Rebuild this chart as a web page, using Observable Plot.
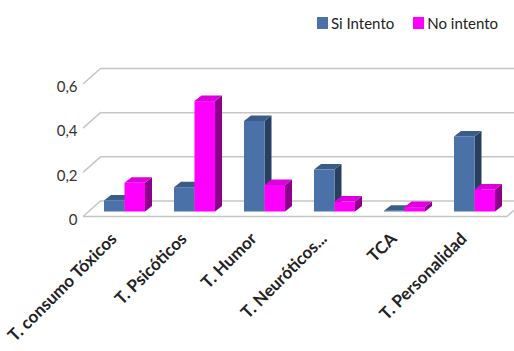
<!DOCTYPE html>
<html><head><meta charset="utf-8">
<script src="https://cdn.jsdelivr.net/npm/d3@7"></script>
<script src="https://cdn.jsdelivr.net/npm/@observablehq/plot@0.6"></script>
<style>
html,body{margin:0;padding:0;background:#fff;overflow:hidden;}
#wrap{position:relative;width:514px;height:351px;}
#legend{position:absolute;left:317px;top:14px;font:15px Lato,sans-serif;color:#222;display:flex;align-items:center;white-space:nowrap;}
#legend .item{display:flex;align-items:center;margin-right:19px;}
#legend .sw{width:11px;height:12px;margin-right:3px;}
#chart{position:absolute;left:0;top:0;}
</style></head><body>
<div id="wrap"><div id="chart"></div><div id="legend"></div></div>
<script>
const categories = ["T. consumo Tóxicos","T. Psicóticos","T. Humor","T. Neuróticos...","TCA","T. Personalidad"];
const series = ["Si Intento","No intento"];
const siIntento = [0.05, 0.11, 0.41, 0.19, 0.003, 0.34];
const noIntento = [0.13, 0.50, 0.12, 0.045, 0.02, 0.10];
const yTicks = [0, 0.2, 0.4, 0.6];
const yTickLabels = ["0", "0,2", "0,4", "0,6"];
const frontColors = ["#4a72a8", "#ff00ff"];
const topColors = ["#3a5c88", "#dc00dc"];
const sideColors = ["#283f60", "#8c008c"];

const data = categories.flatMap((c, i) => [
  {category: c, s: 0, value: siIntento[i]},
  {category: c, s: 1, value: noIntento[i]}
]);

const WX = 18, WY = -16;      // back wall offset
const BX = 4, BY = -5;        // bar front offset
const DX = 7, DY = -5.5;      // bar depth

function wall(index, scales) {
  const {x, y} = scales;
  const [r0, r1] = x.range();
  const g = d3.create("svg:g").attr("stroke", "#c6c6c6").attr("stroke-width", 1.5).attr("fill", "none");
  for (const t of yTicks) {
    g.append("line").attr("x1", r0).attr("y1", y(t)).attr("x2", r0 + WX).attr("y2", y(t) + WY);
  }
  g.append("line").attr("x1", r0).attr("y1", y(0)).attr("x2", r1).attr("y2", y(0));
  g.append("line").attr("x1", r1).attr("y1", y(0)).attr("x2", r1 + WX).attr("y2", y(0) + WY);
  return g.node();
}

function bars3d(index, scales) {
  const {x, y} = scales;
  const bw = x.bandwidth() / 2;
  const g = d3.create("svg:g");
  for (const row of data) {
    const x0 = x(row.category) + row.s * bw + BX;
    const x1 = x0 + bw;
    const y0 = y(0) + BY, y1 = y(row.value) + BY;
    g.append("path").attr("fill", sideColors[row.s])
      .attr("d", `M${x1},${y1}L${x1 + DX},${y1 + DY}L${x1 + DX},${y0 + DY}L${x1},${y0}Z`);
    g.append("path").attr("fill", topColors[row.s])
      .attr("d", `M${x0},${y1}L${x0 + DX},${y1 + DY}L${x1 + DX},${y1 + DY}L${x1},${y1}Z`);
    g.append("rect").attr("fill", frontColors[row.s])
      .attr("x", x0).attr("y", y1).attr("width", bw).attr("height", Math.max(0, y0 - y1));
  }
  return g.node();
}

const chart = Plot.plot({
  width: 514,
  height: 351,
  marginLeft: 83,
  marginRight: 7,
  marginTop: 84,
  marginBottom: 134.5,
  style: {fontFamily: "Lato, sans-serif", background: "transparent", overflow: "hidden"},
  x: {type: "band", domain: categories, paddingInner: 0.42, paddingOuter: 0.21, label: null},
  y: {domain: [0, 0.6], label: null},
  marks: [
    Plot.ruleY(yTicks, {dx: WX, dy: WY, stroke: "#c6c6c6", strokeWidth: 1.5}),
    wall,
    bars3d,
    Plot.axisY(yTicks, {tickSize: 0, tickPadding: 6, dy: 3, fontSize: 15, fill: "#333",
      tickFormat: d => yTickLabels[yTicks.indexOf(d)], label: null}),
    Plot.axisX({tickSize: 0, tickRotate: -45, tickPadding: 19, dx: -7, fontSize: 17,
      fontWeight: "bold", fill: "#222", label: null})
  ]
});
document.getElementById("chart").appendChild(chart);

const legend = document.getElementById("legend");
series.forEach((s, i) => {
  const item = document.createElement("div");
  item.className = "item";
  const sw = document.createElement("div");
  sw.className = "sw";
  sw.style.background = frontColors[i];
  item.appendChild(sw);
  item.appendChild(document.createTextNode(s));
  legend.appendChild(item);
});
</script>
</body></html>
